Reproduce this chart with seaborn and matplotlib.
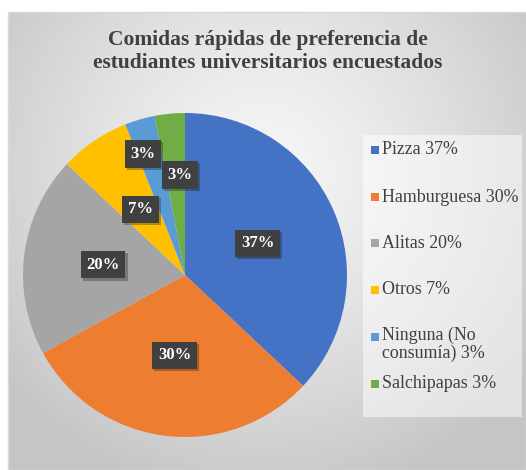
import numpy as np
import matplotlib
matplotlib.use("Agg")
import matplotlib.pyplot as plt
import matplotlib.patheffects as pe
import seaborn as sns
from matplotlib.patches import Rectangle

# Data
categories = ["Pizza", "Hamburguesa", "Alitas", "Otros", "Ninguna (No\nconsumía)", "Salchipapas"]
values = [37, 30, 20, 7, 3, 3]
colors = ["#4472C4", "#ED7D31", "#A5A5A5", "#FFC000", "#5B9BD5", "#70AD47"]
title = "Comidas rápidas de preferencia de\nestudiantes universitarios encuestados"

# label radial distances (fraction of radius), Excel places the tiny ones further out
label_dist = [0.49, 0.50, 0.51, 0.49, 0.79, 0.62]
label_shift = [0, 0, 0, 0, 3, -2.5]  # degrees

sns.set_style("white")
plt.rcParams["font.family"] = ["Liberation Serif", "DejaVu Serif"]

W, H = 526, 470
fig = plt.figure(figsize=(W / 100, H / 100), dpi=100)
fig.patch.set_facecolor("white")

# gradient background of the chart area
bg = fig.add_axes([8 / W, 0, 1 - 8 / W, 1 - 12 / H])
yy, xx = np.mgrid[0:458, 0:518]
d = np.sqrt(((xx - 255) / 330.0) ** 2 + ((yy - 160) / 330.0) ** 2)
d = np.clip(d, 0, 1)
shade = 0.965 - 0.19 * d ** 1.3
bg.imshow(np.dstack([shade, shade, shade]), aspect="auto", interpolation="bilinear")
bg.set_axis_off()
fig.patches.append(Rectangle((8 / W, 0), 1 - 8 / W, 1 - 12 / H, transform=fig.transFigure,
                             fill=False, edgecolor="#d9d9d9", lw=1))

fig.text(268 / W, 1 - 52 / H, title, ha="center", va="center", fontsize=15.5,
         fontweight="bold", color="#404040", linespacing=1.2)

# pie
cx, cy, r = 185, 275, 162
rr = r * 1.02
ax = fig.add_axes([(cx - rr) / W, (H - cy - rr) / H, 2 * rr / W, 2 * rr / H])
wedges, _ = ax.pie(values, colors=colors, startangle=90, counterclock=False,
                   wedgeprops=dict(linewidth=0))
ax.set_xlim(-1.02, 1.02)
ax.set_ylim(-1.02, 1.02)
ax.set_axis_off()

for w, v, dist, sh in zip(wedges, values, label_dist, label_shift):
    ang = np.deg2rad((w.theta1 + w.theta2) / 2 + sh)
    t = ax.text(dist * np.cos(ang), dist * np.sin(ang), f"{v}%", ha="center", va="center",
                fontsize=12, fontweight="bold", color="white",
                bbox=dict(boxstyle="square,pad=0.35", facecolor="#404040", edgecolor="none"))
    t.get_bbox_patch().set_path_effects([pe.SimplePatchShadow(offset=(1.5, -1.5), alpha=0.3),
                                         pe.Normal()])

# legend box
fig.patches.append(Rectangle((363 / W, 1 - 417 / H), 159 / W, 282 / H, transform=fig.transFigure,
                             facecolor="white", alpha=0.5, edgecolor="none"))
leg_y = [150, 197, 243, 290, 337, 384]
for lab, v, c, y in zip(categories, values, colors, leg_y):
    fig.patches.append(Rectangle((371 / W, 1 - (y + 4) / H), 8 / W, 8 / H,
                                 transform=fig.transFigure, facecolor=c, edgecolor="none"))
    if "\n" in lab:
        fig.text(382 / W, 1 - (y - 10) / H, f"{lab} {v}%", ha="left", va="top",
                 fontsize=12.9, color="#404040", linespacing=1.05)
    else:
        fig.text(382 / W, 1 - y / H, f"{lab} {v}%", ha="left", va="center",
                 fontsize=12.9, color="#404040")

fig.savefig("out.png", dpi=100)
